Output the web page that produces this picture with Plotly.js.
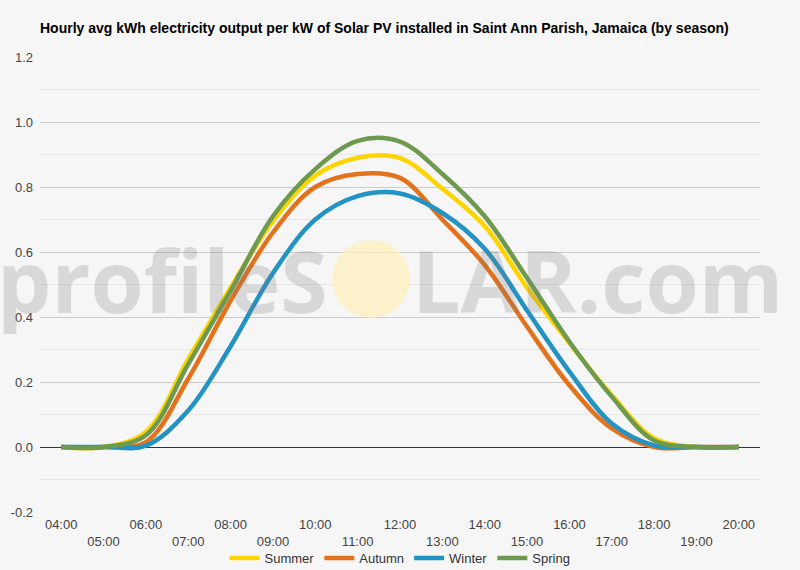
<!DOCTYPE html>
<html>
<head>
<meta charset="utf-8">
<script src="https://cdn.plot.ly/plotly-3.0.1.min.js"></script>
<style>
  html, body { margin: 0; padding: 0; background: #f6f6f6; }
  #chart { width: 800px; height: 570px; }
</style>
</head>
<body>
<div id="chart"></div>
<script>
// Hourly solar output per season (kWh per kW installed)
const hours = ['04:00', '05:00', '06:00', '07:00', '08:00', '09:00', '10:00', '11:00', '12:00',
               '13:00', '14:00', '15:00', '16:00', '17:00', '18:00', '19:00', '20:00'];

const summer = [0, 0, 0.046, 0.27, 0.49, 0.695, 0.835, 0.89, 0.889, 0.795, 0.68, 0.49, 0.32, 0.16, 0.027, 0, 0];
const autumn = [0, 0, 0.015, 0.21, 0.45, 0.66, 0.80, 0.84, 0.828, 0.70, 0.56, 0.37, 0.19, 0.057, 0, 0, 0];
const winter = [0, 0, 0.004, 0.112, 0.31, 0.535, 0.70, 0.772, 0.78, 0.72, 0.61, 0.42, 0.232, 0.072, 0.005, 0, 0];
const spring = [0, 0, 0.036, 0.255, 0.48, 0.71, 0.855, 0.942, 0.94, 0.84, 0.71, 0.52, 0.324, 0.155, 0.02, 0, 0];

const yTickVals = [-0.2, 0, 0.2, 0.4, 0.6, 0.8, 1.0, 1.2];
const yTickText = ['-0.2', '0.0', '0.2', '0.4', '0.6', '0.8', '1.0', '1.2'];

const seasonNames = ['Summer', 'Autumn', 'Winter', 'Spring'];
const seasonColors = ['#fcd400', '#e4711b', '#2393c4', '#6e9a4f'];

function drawChart() {
    const container = document.getElementById('chart');
    const series = [summer, autumn, winter, spring];

    // tick labels alternate between two rows
    const tickText = hours.map((h, i) => (i % 2 === 0 ? h : ' <br>' + h));

    const data = series.map((vals, i) => ({
        type: 'scatter',
        mode: 'lines',
        name: seasonNames[i],
        x: hours,
        y: vals,
        line: { color: seasonColors[i], width: 4.5, shape: 'spline', smoothing: 1 },
        hoverinfo: 'x+y+name'
    }));

    const layout = {
        width: 800,
        height: 570,
        paper_bgcolor: '#f6f6f6',
        plot_bgcolor: '#f6f6f6',
        margin: { l: 40, r: 40, t: 57, b: 58, autoexpand: false },
        font: { family: 'Liberation Sans, Arial, sans-serif', size: 13, color: '#444' },
        title: {
            text: 'Hourly avg kWh electricity output per kW of Solar PV installed in Saint Ann Parish, Jamaica (by season)',
            font: { family: 'Liberation Sans, Arial, sans-serif', size: 14, color: '#000', weight: 'bold' },
            xref: 'container', x: 0.05, xanchor: 'left',
            yref: 'container', y: 1 - 28 / 570, yanchor: 'middle'
        },
        xaxis: {
            type: 'category',
            range: [-0.5, 16.5],
            tickmode: 'array',
            tickvals: hours,
            ticktext: tickText,
            showgrid: false,
            zeroline: false,
            showline: false,
            ticks: '',
            ticklabelstandoff: 3,
            automargin: false,
            tickfont: { size: 13, color: '#444' }
        },
        yaxis: {
            range: [-0.2, 1.2],
            tickmode: 'array',
            tickvals: yTickVals,
            ticktext: yTickText,
            gridcolor: '#cccccc',
            gridwidth: 1,
            zeroline: true,
            zerolinecolor: '#333333',
            zerolinewidth: 1,
            ticks: '',
            ticklabelstandoff: 6,
            automargin: false,
            tickfont: { size: 13, color: '#444' },
            minor: { dtick: 0.1, showgrid: true, gridcolor: '#e6e6e6', gridwidth: 1 }
        },
        showlegend: true,
        legend: {
            orientation: 'h',
            x: 0.5, xanchor: 'center',
            y: (512 - 558) / 455, yanchor: 'middle',
            font: { size: 13, color: '#333' },
            bgcolor: 'rgba(0,0,0,0)',
            itemwidth: 30,
            tracegroupgap: 0
        },
        shapes: [
            // pale sun of the watermark
            {
                type: 'circle', xref: 'paper', yref: 'paper', layer: 'above',
                x0: (332 - 40) / 720, x1: (410 - 40) / 720,
                y0: (512 - 318) / 455, y1: (512 - 240) / 455,
                fillcolor: 'rgba(252,240,190,0.75)',
                line: { width: 0 }
            }
        ],
        annotations: [
            {
                text: '<b>profileS</b>', xref: 'paper', yref: 'paper',
                x: (330 - 40) / 720, xanchor: 'right',
                y: (512 - 279) / 455, yanchor: 'middle',
                showarrow: false,
                font: { family: 'Open Sans, sans-serif', size: 86, color: 'rgba(120,120,120,0.24)' }
            },
            {
                text: '<b>LAR.com</b>', xref: 'paper', yref: 'paper',
                x: (410 - 40) / 720, xanchor: 'left',
                y: (512 - 279) / 455, yanchor: 'middle',
                showarrow: false,
                font: { family: 'Open Sans, sans-serif', size: 86, color: 'rgba(120,120,120,0.24)' }
            }
        ]
    };

    const config = { displayModeBar: false, staticPlot: true };

    try {
        Plotly.newPlot(container, data, layout, config);
    } catch (err) {
        console.error('Plot failed:', err);
    }
}

drawChart();
</script>
</body>
</html>
